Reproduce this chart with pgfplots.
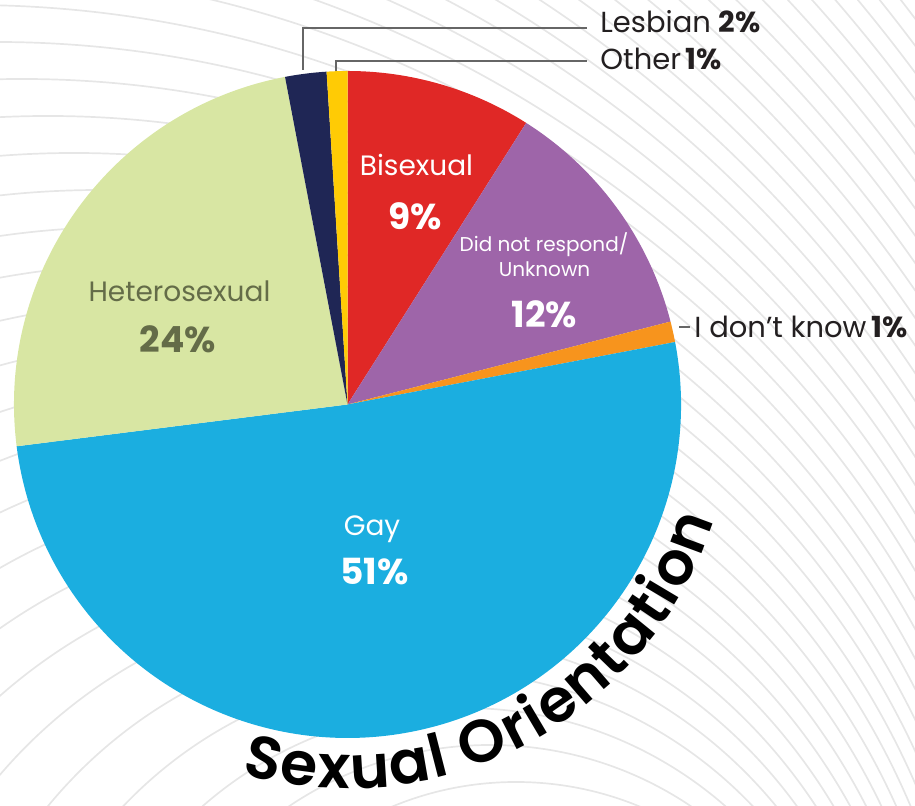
\documentclass[border=0pt]{standalone}
\usepackage{pgfplots}
\pgfplotsset{compat=1.18}
\usepackage{fontspec}
\setmainfont{Poppins}
\newfontfamily\semib{Poppins SemiBold}
\usetikzlibrary{decorations.text}
\definecolor{cBi}{HTML}{E02826}
\definecolor{cUnk}{HTML}{9E65A9}
\definecolor{cIdk}{HTML}{F7941D}
\definecolor{cGay}{HTML}{1BAEE0}
\definecolor{cHet}{HTML}{D8E6A3}
\definecolor{cLes}{HTML}{1F2655}
\definecolor{cOth}{HTML}{FFCB05}
\definecolor{cHetTxt}{HTML}{646C48}
\definecolor{bgline}{HTML}{E6E6E6}
\definecolor{txt}{HTML}{231F20}
\begin{document}
\begin{tikzpicture}[x=0.5pt,y=0.5pt]
\path[use as bounding box] (0,0) rectangle (915,806);
\begin{scope}
\clip (0,0) rectangle (915,806);
\foreach \j in {-22,...,28}{
  \pgfmathsetmacro\cx{-30+26*\j}
  \pgfmathsetmacro\rr{1100-37*\j}
  \draw[bgline, line width=0.85pt] (\cx,-299) circle[radius=\rr];
}
\end{scope}
\begin{axis}[at={(0,0)}, anchor=origin, x=0.5pt, y=0.5pt,
  xmin=0, xmax=915, ymin=0, ymax=806, hide axis, clip=false,
  disabledatascaling]
\pgfplotsextra{
  \gdef\curang{90}
  \foreach \v/\c in {9/cBi,12/cUnk,1/cIdk,51/cGay,24/cHet,2/cLes,1/cOth}{
    \pgfmathsetmacro\e{\curang-3.6*\v}
    \fill[\c] (axis cs:347.5,401.5) -- ++(\curang:166.75pt)
      arc[start angle=\curang, end angle=\e, radius=166.75pt] -- cycle;
    \xdef\curang{\e}
  }
}
\node[anchor=base, white, font=\fontsize{14}{14}\selectfont] at (axis cs:416.5,630) {Bisexual};
\node[anchor=base, white, font=\fontsize{18}{18}\selectfont\bfseries] at (axis cs:415.5,576) {9\%};
\node[anchor=base, white, font=\fontsize{10}{10}\selectfont] at (axis cs:544,554) {Did not respond/};
\node[anchor=base, white, font=\fontsize{10}{10}\selectfont] at (axis cs:544.5,529) {Unknown};
\node[anchor=base, white, font=\fontsize{18}{18}\selectfont\bfseries] at (axis cs:544.5,478) {12\%};
\node[anchor=base, cHetTxt, font=\fontsize{14}{14}\selectfont] at (axis cs:179.5,504) {Heterosexual};
\node[anchor=base, cHetTxt, font=\fontsize{18}{18}\selectfont\bfseries] at (axis cs:178,453) {24\%};
\node[anchor=base, white, font=\fontsize{14}{14}\selectfont] at (axis cs:372,270) {Gay};
\node[anchor=base, white, font=\fontsize{18}{18}\selectfont\bfseries] at (axis cs:374.5,221) {51\%};
\end{axis}
% leader lines and outside labels
\draw[gray!80!black, line width=0.6pt] (303,736) -- (303,778) -- (587,778);
\draw[gray!80!black, line width=0.6pt] (336,735) -- (336,745) -- (587,745);
\draw[gray!80!black, line width=0.6pt] (679,479) -- (690,479);
\node[anchor=base west, inner sep=0pt, txt, font=\fontsize{14.5}{14.5}\selectfont] at (600,773) {Lesbian \textbf{2\%}};
\node[anchor=base west, inner sep=0pt, txt, font=\fontsize{14.5}{14.5}\selectfont] at (600,736) {Other\,\textbf{1\%}};
\node[anchor=base west, inner sep=0pt, txt, font=\fontsize{14.5}{14.5}\selectfont] at (694,468) {I don’t know\,\textbf{1\%}};
% curved title
\path[decorate, decoration={text along path, text align=fit to path,
   text={|\fontsize{30}{30}\semib\color{black}|Sexual Orientation}}]
   (347.5,401.5) ++(-106:384) arc[start angle=-106, end angle=-17.5, radius=384];
\end{tikzpicture}
\end{document}
